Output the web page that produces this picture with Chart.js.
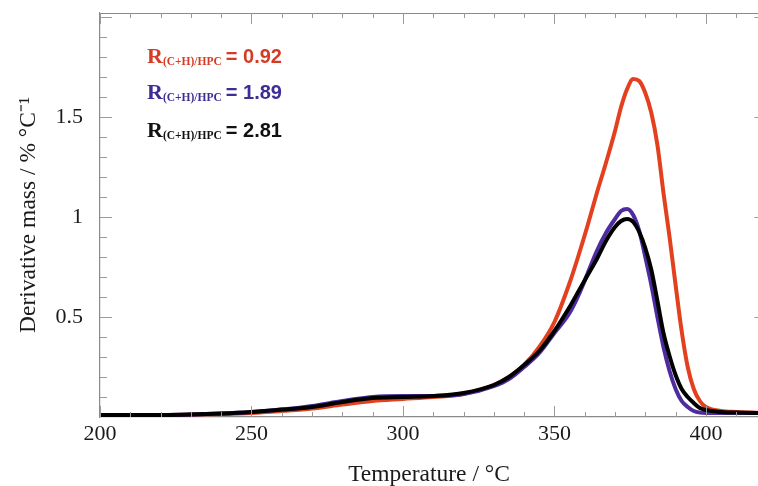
<!DOCTYPE html>
<html>
<head>
<meta charset="utf-8">
<script src="https://cdn.jsdelivr.net/npm/chart.js@4/dist/chart.umd.min.js"></script>
<style>
  html, body { margin: 0; padding: 0; background: #fff; overflow: hidden; }
  #wrap { width: 758px; height: 486px; }
</style>
</head>
<body>
<div id="wrap"><canvas id="dtg_chart" width="758" height="486"></canvas></div>
<script>
// temperature grid (°C) and DTG curves
var temps = [200, 210, 220, 230, 240, 250, 260, 270, 280, 290, 300, 310, 320, 330, 335, 340, 345, 350,
             355, 358, 361, 364, 367, 370, 372, 374, 376, 378, 380, 382, 384, 386, 388, 390,
             392, 394, 396, 398, 400, 405, 410, 420];
var dtg092 = [0.01, 0.01, 0.01, 0.012, 0.015, 0.02, 0.03, 0.042, 0.062, 0.08, 0.09, 0.1, 0.115, 0.16, 0.2, 0.26, 0.35, 0.475,
              0.67, 0.81, 0.96, 1.12, 1.27, 1.43, 1.55, 1.64, 1.69, 1.68, 1.62, 1.52, 1.36, 1.12, 0.9, 0.66,
              0.43, 0.25, 0.14, 0.08, 0.05, 0.03, 0.025, 0.02];
var dtg189 = [0.01, 0.01, 0.01, 0.012, 0.017, 0.025, 0.037, 0.055, 0.08, 0.1, 0.105, 0.105, 0.115, 0.155, 0.19, 0.25, 0.32, 0.42,
              0.52, 0.61, 0.72, 0.83, 0.92, 0.99, 1.03, 1.04, 1.01, 0.93, 0.8, 0.66, 0.5, 0.35, 0.23, 0.14,
              0.08, 0.05, 0.03, 0.022, 0.02, 0.02, 0.02, 0.02];
var dtg281 = [0.01, 0.01, 0.01, 0.012, 0.017, 0.025, 0.037, 0.05, 0.075, 0.095, 0.1, 0.105, 0.12, 0.16, 0.2, 0.26, 0.33, 0.43,
              0.55, 0.63, 0.71, 0.79, 0.88, 0.95, 0.98, 0.99, 0.975, 0.925, 0.845, 0.735, 0.58, 0.42, 0.305, 0.21,
              0.14, 0.1, 0.07, 0.045, 0.035, 0.025, 0.022, 0.02];
var ratioLabels = ["0.92", "1.89", "2.81"];
var xTickLabels = [200, 250, 300, 350, 400];
var yTickLabels = [0.5, 1, 1.5];

var lineColors = ['#e2401f', '#4e2ca0', '#000000'];
var textColors = ['#d63c24', '#3d2e94', '#111111'];

function toPoints(ys){
  return temps.map(function(t, i){ return {x: t, y: ys[i]}; });
}

// inward tick marks + top frame, like the original plot (right axis sits just off the crop)
var frameTicks = {
  id: 'frameTicks',
  afterDraw: function(chart){
    var ctx = chart.ctx, a = chart.chartArea;
    var xs = chart.scales.x, ys = chart.scales.y;
    var rightAxis = xs.getPixelForValue(420);
    ctx.save();
    ctx.strokeStyle = '#8a8a8a';
    ctx.lineWidth = 1.2;
    ctx.beginPath();
    ctx.moveTo(a.left, a.top + 0.5); ctx.lineTo(a.right, a.top + 0.5);
    ctx.stroke();
    ctx.strokeStyle = '#9a9a9a';
    ctx.lineWidth = 1;
    ctx.beginPath();
    for (var t = 200; t <= 420; t += 10){
      var px = Math.round(xs.getPixelForValue(t)) + 0.5;
      var len = (t % 50 === 0) ? 11 : 5;
      ctx.moveTo(px, a.bottom); ctx.lineTo(px, a.bottom - len);
      ctx.moveTo(px, a.top); ctx.lineTo(px, a.top + len);
    }
    for (var k = 1; k <= 20; k++){
      var py = Math.round(ys.getPixelForValue(k / 10)) + 0.5;
      var l2 = (k % 5 === 0) ? 12 : 7;
      ctx.moveTo(a.left, py); ctx.lineTo(a.left + l2, py);
      ctx.moveTo(rightAxis, py); ctx.lineTo(rightAxis - l2, py);
    }
    ctx.stroke();

    // R(C+H)/HPC labels
    var x0 = a.left + 47;
    var base = [63, 99, 137];
    for (var i = 0; i < 3; i++){
      ctx.fillStyle = textColors[i];
      ctx.textBaseline = 'alphabetic';
      ctx.font = 'bold 22px "Liberation Serif"';
      ctx.fillText('R', x0, base[i]);
      var w = ctx.measureText('R').width;
      ctx.font = 'bold 11.5px "Liberation Serif"';
      ctx.fillText('(C+H)/HPC', x0 + w, base[i] + 2);
      w += ctx.measureText('(C+H)/HPC').width + 4;
      ctx.font = 'bold 20px "Liberation Sans"';
      ctx.fillText('= ' + ratioLabels[i], x0 + w, base[i]);
    }
    ctx.restore();
  }
};

var ctx = document.getElementById('dtg_chart');
var dtgChart = new Chart(ctx, {
  type: 'line',
  data: {
    datasets: [
      { label: 'R = 0.92', data: toPoints(dtg092), borderColor: lineColors[0], order: 3 },
      { label: 'R = 1.89', data: toPoints(dtg189), borderColor: lineColors[1], order: 2 },
      { label: 'R = 2.81', data: toPoints(dtg281), borderColor: lineColors[2], order: 1 }
    ]
  },
  options: {
    responsive: false,
    animation: false,
    devicePixelRatio: 1,
    layout: { padding: { top: 13, right: 0, left: 0, bottom: 0 } },
    elements: {
      line: { borderWidth: 4, cubicInterpolationMode: 'monotone', fill: false },
      point: { radius: 0 }
    },
    plugins: { legend: { display: false }, tooltip: { enabled: false } },
    scales: {
      x: {
        type: 'linear',
        min: 200,
        max: 417.2,
        afterFit: function(scale){
          scale.height = 69;
          scale.paddingLeft = 0; scale.paddingRight = 0;
        },
        afterBuildTicks: function(scale){
          scale.ticks = xTickLabels.map(function(v){ return {value: v}; });
        },
        grid: { display: false, drawTicks: false },
        border: { display: true, color: '#8a8a8a', width: 1.2 },
        ticks: {
          padding: 4,
          color: '#1a1a1a',
          maxRotation: 0,
          font: { family: '"Liberation Serif"', size: 22 }
        },
        title: {
          display: true,
          text: 'Temperature / °C',
          color: '#1a1a1a',
          padding: { top: 0, bottom: -3 },
          font: { family: '"Liberation Serif"', size: 23.5 }
        }
      },
      y: {
        min: 0,
        max: 2.02,
        afterFit: function(scale){
          scale.width = 100;
          scale.paddingTop = 0; scale.paddingBottom = 0;
        },
        afterBuildTicks: function(scale){
          scale.ticks = yTickLabels.map(function(v){ return {value: v}; });
        },
        grid: { display: false, drawTicks: false },
        border: { display: true, color: '#8a8a8a', width: 1.2 },
        ticks: {
          padding: 17,
          color: '#1a1a1a',
          font: { family: '"Liberation Serif"', size: 22 },
          callback: function(v){ return String(v); }
        },
        title: {
          display: true,
          text: 'Derivative mass / % °C⁻¹',
          color: '#1a1a1a',
          padding: { top: 15, bottom: 0 },
          font: { family: '"Liberation Serif"', size: 23.5 }
        }
      }
    }
  },
  plugins: [frameTicks]
});
</script>
</body>
</html>
